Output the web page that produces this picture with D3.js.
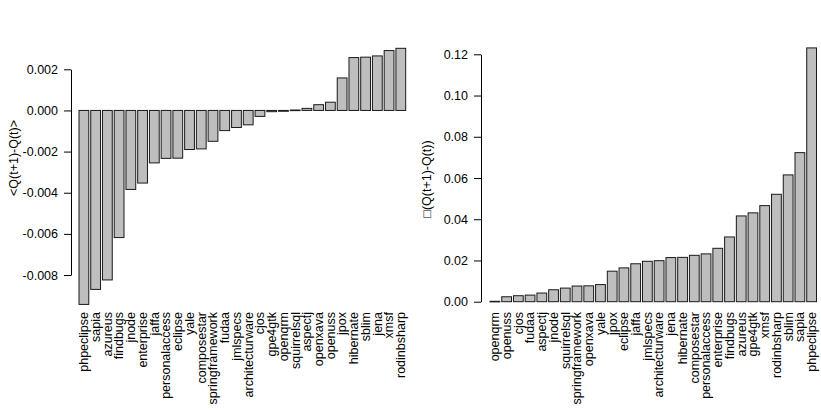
<!DOCTYPE html>
<html lang="en">
<head>
  <meta charset="UTF-8">
  <title>Q(t+1)-Q(t) per project</title>
  <style>
    body {
      margin: 0;
      overflow: hidden;
      background: #fff;
    }
    svg {
      display: block;
    }
    text {
      font-family: "Liberation Sans", Arial, Helvetica, sans-serif;
      font-size: 12.5px;
      fill: #000;
    }
    .bar {
      fill: #bebebe;
      stroke: #1a1a1a;
      stroke-width: 1px;
    }
    .axis path, .axis line {
      stroke: #000;
      stroke-width: 1px;
      fill: none;
    }
  </style>
</head>
<body>
  <svg width="821" height="411"></svg>
  <script src="https://d3js.org/d3.v7.min.js"></script>
  <script>
    // left panel: mean change, sorted ascending
    const meanNames = ["phpeclipse", "sapia", "azureus", "findbugs", "jnode", "enterprise", "jaffa",
      "personalaccess", "eclipse", "yale", "composestar", "springframework", "fudaa", "jmlspecs",
      "architecturware", "cjos", "gpe4gtk", "openqrm", "squirrelsql", "aspectj", "openxava",
      "openuss", "jpox", "hibernate", "sblim", "jena", "xmsf", "rodinbsharp"];
    const meanValues = [-0.00943, -0.00870, -0.00824, -0.00618, -0.00384, -0.00353, -0.00255,
      -0.00233, -0.00232, -0.00190, -0.00187, -0.00150, -0.00098, -0.00083,
      -0.00070, -0.00029, -0.00006, -0.00004, 0.00002, 0.00010, 0.00028,
      0.00040, 0.00158, 0.00257, 0.00259, 0.00265, 0.00291, 0.00302];
    const meanTicks = [-0.008, -0.006, -0.004, -0.002, 0.000, 0.002];

    // right panel: spread of change, sorted ascending
    const sdNames = ["openqrm", "openuss", "cjos", "fudaa", "aspectj", "jnode", "squirrelsql",
      "springframework", "openxava", "yale", "jpox", "eclipse", "jaffa", "jmlspecs",
      "architecturware", "jena", "hibernate", "composestar", "personalaccess", "enterprise",
      "findbugs", "azureus", "gpe4gtk", "xmsf", "rodinbsharp", "sblim", "sapia", "phpeclipse"];
    const sdValues = [0.0002, 0.0024, 0.0029, 0.0032, 0.0042, 0.0058, 0.0066,
      0.0076, 0.0077, 0.0083, 0.0148, 0.0164, 0.0184, 0.0196,
      0.0199, 0.0214, 0.0215, 0.0225, 0.0232, 0.0259,
      0.0314, 0.0416, 0.0431, 0.0466, 0.0521, 0.0615, 0.0723, 0.1231];
    const sdTicks = [0.00, 0.02, 0.04, 0.06, 0.08, 0.10, 0.12];

    const svg = d3.select("svg");

    function drawPanel(p) {
      const g = svg.append("g");

      const x = d3.scaleBand()
        .domain(p.names)
        .range(p.xRange)
        .paddingInner(1 / 6)
        .paddingOuter(0);

      const y = d3.scaleLinear()
        .domain(d3.extent(p.ticks))
        .range(p.yRange);

      // bars
      g.selectAll("rect.bar")
        .data(p.values)
        .join("rect")
        .attr("class", "bar")
        .attr("x", (d, i) => x(p.names[i]))
        .attr("width", x.bandwidth())
        .attr("y", d => Math.min(y(d), y(0)))
        .attr("height", d => Math.max(Math.abs(y(d) - y(0)), 0.6));

      // y axis, R style (line only between end ticks)
      const axis = g.append("g")
        .attr("class", "axis")
        .attr("transform", "translate(" + p.axisX + ",0)")
        .call(d3.axisLeft(y)
          .tickValues(p.ticks)
          .tickSize(7)
          .tickSizeOuter(0)
          .tickPadding(6)
          .tickFormat(d => d.toFixed(p.digits)));
      axis.selectAll("text")
        .style("font-size", "12.5px")
        .attr("fill", "#000");

      // category labels, vertical
      g.selectAll("text.cat")
        .data(p.names)
        .join("text")
        .attr("class", "cat")
        .attr("text-anchor", "end")
        .attr("dy", "0.35em")
        .attr("transform", d => "translate(" + (x(d) + x.bandwidth() / 2) + "," + p.labelY + ") rotate(-90)")
        .text(d => d);

      // y title
      g.append("text")
        .attr("text-anchor", "middle")
        .attr("transform", "translate(" + p.titleX + "," + p.titleY + ") rotate(-90)")
        .text(p.title);
    }

    drawPanel({
      names: meanNames,
      values: meanValues,
      ticks: meanTicks,
      digits: 3,
      xRange: [79, 405.7],
      yRange: [275, 69.3],
      axisX: 71,
      labelY: 312,
      titleX: 18,
      titleY: 158,
      title: "<Q(t+1)-Q(t)>"
    });

    drawPanel({
      names: sdNames,
      values: sdValues,
      ticks: sdTicks,
      digits: 2,
      xRange: [490, 816.5],
      yRange: [301.7, 54.3],
      axisX: 481,
      labelY: 312,
      titleX: 431,
      titleY: 179,
      title: "\u25A1(Q(t+1)-Q(t))"
    });
  </script>
</body>
</html>
